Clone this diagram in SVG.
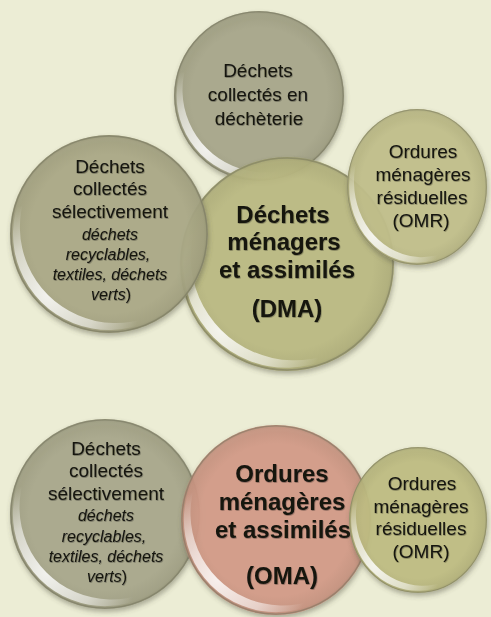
<svg xmlns="http://www.w3.org/2000/svg" xmlns:xlink="http://www.w3.org/1999/xlink" width="491" height="617" viewBox="0 0 491 617">
  <defs>
    <style>
      .base { fill-opacity: 0.9; filter: url(#drop); }
      .t { font-family: "Liberation Sans", Arial, sans-serif; fill: #141410; text-anchor: middle; filter: url(#tshadow); }
      .r { font-size: 19px; }
      .i { font-size: 16px; font-style: italic; }
      .b { font-size: 24px; font-weight: bold; }
    </style>
    <filter id="drop" x="-20%" y="-20%" width="140%" height="140%">
      <feDropShadow dx="1" dy="3" stdDeviation="2.5" flood-color="#4a4a3a" flood-opacity="0.45"/>
    </filter>
    <filter id="tshadow" x="-10%" y="-30%" width="120%" height="160%">
      <feDropShadow dx="0.6" dy="0.8" stdDeviation="0.7" flood-color="#000" flood-opacity="0.35"/>
    </filter>
    <!-- darker ring towards the edge of each bubble -->
    <radialGradient id="shade" cx="0" cy="0" r="100" gradientUnits="userSpaceOnUse">
      <stop offset="0.8" stop-color="#3c3c28" stop-opacity="0"/>
      <stop offset="0.96" stop-color="#3c3c28" stop-opacity="0.08"/>
      <stop offset="1" stop-color="#3c3c28" stop-opacity="0.18"/>
    </radialGradient>
    <!-- glossy rim on the lower-left side -->
    <radialGradient id="rim" cx="-62" cy="62" r="95" gradientUnits="userSpaceOnUse">
      <stop offset="0" stop-color="#ffffff" stop-opacity="0.85"/>
      <stop offset="0.55" stop-color="#ffffff" stop-opacity="0.55"/>
      <stop offset="1" stop-color="#ffffff" stop-opacity="0"/>
    </radialGradient>
    <linearGradient id="topHi" x1="0" y1="-100" x2="0" y2="-40" gradientUnits="userSpaceOnUse">
      <stop offset="0" stop-color="#ffffff" stop-opacity="0.6"/>
      <stop offset="1" stop-color="#ffffff" stop-opacity="0"/>
    </linearGradient>
    <!-- bubble gloss drawn for a circle of radius 100 centred on the origin -->
    <g id="gloss">
      <circle r="100" fill="url(#shade)"/>
      <path d="M-96.9 2 A97 97 0 0 1 96.9 2 A97 97 0 0 0 -96.9 2 Z" fill="url(#topHi)"/>
      <path d="M72 65 A97 97 0 1 1 -65 -72 A97 97 0 0 0 72 65 Z" fill="url(#rim)"/>
      <circle r="99" fill="none" stroke="#6f6f58" stroke-opacity="0.45" stroke-width="1.4"/>
    </g>
  </defs>

  <rect width="491" height="617" fill="#ECEDD5"/>

  <!-- upper cluster: household and similar waste -->
  <g id="n-decheterie">
    <circle class="base" cx="259" cy="96" r="85" fill="#A9A78C"/>
    <use xlink:href="#gloss" transform="translate(259 96) scale(0.85)"/>
    <text class="t r" x="258" y="77">Déchets</text>
    <text class="t r" x="258" y="101">collectés en</text>
    <text class="t r" x="259" y="125">déchèterie</text>
  </g>

  <g id="n-dma">
    <circle class="base" cx="287" cy="264" r="107" fill="#BDBB84"/>
    <use xlink:href="#gloss" transform="translate(287 264) scale(1.07)"/>
    <text class="t b" x="283" y="223">Déchets</text>
    <text class="t b" x="284" y="250">ménagers</text>
    <text class="t b" x="287" y="278">et assimilés</text>
    <text class="t b" x="287" y="317">(DMA)</text>
  </g>

  <g id="n-selectif-1">
    <circle class="base" cx="109" cy="234" r="99" fill="#ACAA88"/>
    <use xlink:href="#gloss" transform="translate(109 234) scale(0.99)"/>
    <text class="t r" x="110" y="173">Déchets</text>
    <text class="t r" x="110" y="195">collectés</text>
    <text class="t r" x="110" y="218">sélectivement</text>
    <text class="t i" x="110" y="240">déchets</text>
    <text class="t i" x="108" y="260">recyclables,</text>
    <text class="t i" x="110" y="280">textiles, déchets</text>
    <text class="t i" x="111" y="300">verts<tspan font-style="normal">)</tspan></text>
  </g>

  <g id="n-omr-1">
    <ellipse class="base" cx="417" cy="187" rx="70" ry="78" fill="#C3C18C"/>
    <use xlink:href="#gloss" transform="translate(417 187) scale(0.7 0.78)"/>
    <text class="t r" x="423" y="158">Ordures</text>
    <text class="t r" x="423" y="181">ménagères</text>
    <text class="t r" x="422" y="204">résiduelles</text>
    <text class="t r" x="421" y="227">(OMR)</text>
  </g>

  <!-- lower cluster: household and similar refuse -->
  <g id="n-selectif-2">
    <circle class="base" cx="105" cy="514" r="95" fill="#AAA98D"/>
    <use xlink:href="#gloss" transform="translate(105 514) scale(0.95)"/>
    <text class="t r" x="106" y="455">Déchets</text>
    <text class="t r" x="106" y="477">collectés</text>
    <text class="t r" x="106" y="500">sélectivement</text>
    <text class="t i" x="106" y="521">déchets</text>
    <text class="t i" x="104" y="542">recyclables,</text>
    <text class="t i" x="106" y="562">textiles, déchets</text>
    <text class="t i" x="107" y="582">verts<tspan font-style="normal">)</tspan></text>
  </g>

  <g id="n-oma">
    <circle class="base" cx="276" cy="520" r="95" fill="#D59C8A"/>
    <use xlink:href="#gloss" transform="translate(276 520) scale(0.95)"/>
    <text class="t b" x="282" y="482">Ordures</text>
    <text class="t b" x="282" y="510">ménagères</text>
    <text class="t b" x="283" y="538">et assimilés</text>
    <text class="t b" x="282" y="584">(OMA)</text>
  </g>

  <g id="n-omr-2">
    <ellipse class="base" cx="418" cy="520" rx="69" ry="73" fill="#C1BF84"/>
    <use xlink:href="#gloss" transform="translate(418 520) scale(0.69 0.73)"/>
    <text class="t r" x="422" y="490">Ordures</text>
    <text class="t r" x="421" y="513">ménagères</text>
    <text class="t r" x="421" y="535">résiduelles</text>
    <text class="t r" x="421" y="558">(OMR)</text>
  </g>
</svg>
